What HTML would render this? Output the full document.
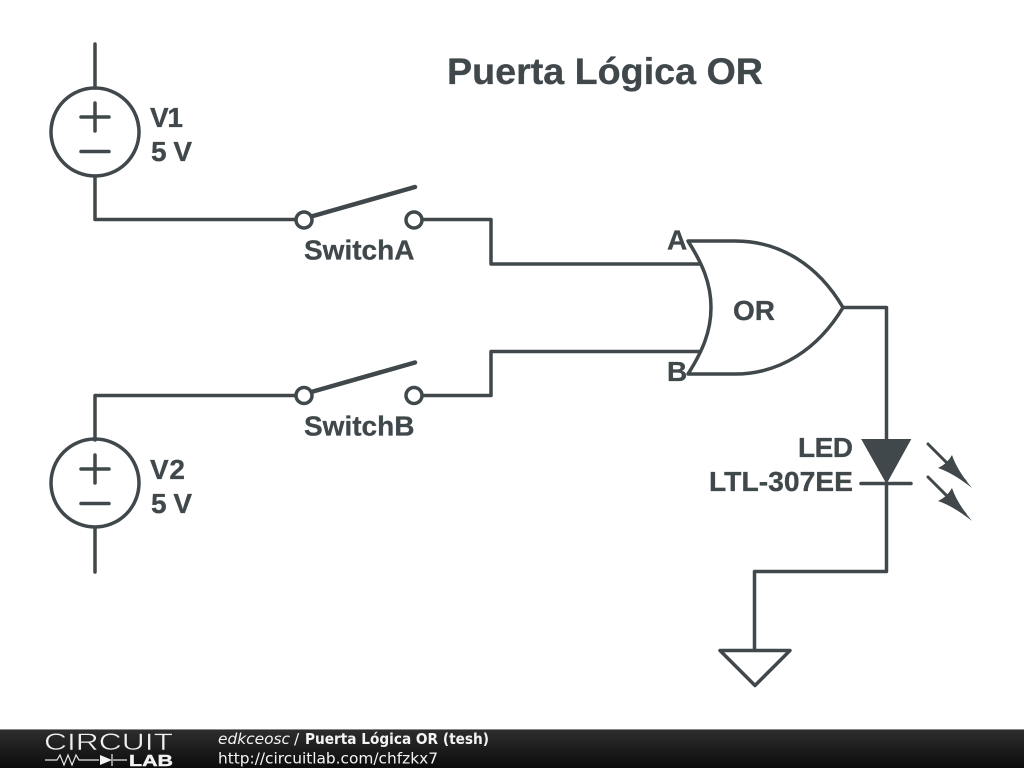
<!DOCTYPE html>
<html><head><meta charset="utf-8"><title>Puerta Lógica OR</title>
<style>html,body{margin:0;padding:0;background:#fff;width:1024px;height:768px;overflow:hidden}svg{display:block}</style>
</head><body>
<svg width="1024" height="768" viewBox="0 0 1024 768" xmlns="http://www.w3.org/2000/svg">
<defs><linearGradient id="f" x1="0" y1="0" x2="0" y2="1"><stop offset="0" stop-color="#2e2e2e"/><stop offset="1" stop-color="#0c0c0c"/></linearGradient></defs>
<rect width="1024" height="768" fill="#fff"/>
<g fill="none" stroke="#40484c" stroke-width="3.5" stroke-linecap="round" stroke-linejoin="round">
<path d="M95 44V88M95 176V219.500H296"/>
<circle cx="95" cy="132" r="44"/>
<path d="M81 117H109M95 103V131M81 151.500H109"/>
<circle cx="304" cy="220" r="8"/><circle cx="414" cy="220" r="8"/>
<path d="M313 216L415 187" stroke-width="4.500"/>
<path d="M422 219.500H491V264H700"/>
<path d="M95 572V528M95 440V395.500H296"/>
<circle cx="95" cy="483" r="44"/>
<path d="M81 469H109M95 455V483M81 503.500H109"/>
<circle cx="304" cy="395.500" r="8"/><circle cx="414" cy="395.500" r="8"/>
<path d="M313 391.500L415 362.500" stroke-width="4.500"/>
<path d="M422 395.500H491V351.500H700"/>
<path d="M688 241H735C780 241 818 265 843 307.500C818 349 780 374 735 374H688C702 352 711 332 711 307.500C711 283 702 263 688 241Z"/>
<path d="M843 307.500H886.500V440M861 483.500H911M886.500 483.500V571.500H754.500V650M720 650.500H790L755 685.500Z"/>
<path d="M928 444L965 481M928 477L965 514" stroke-width="3"/>
</g>
<path d="M862 439.500H910.500L886.500 483Z" fill="#40484c" stroke="#40484c" stroke-width="1"/>
<path d="M972 488Q953 473 938 468Q947 464 952 455Q957 470 972 488Z M972 521Q953 506 938 501Q947 497 952 488Q957 503 972 521Z" fill="#40484c"/>
<g font-family="'Liberation Sans',sans-serif" font-weight="bold" fill="#40484c" stroke="#40484c" stroke-width=".3" font-size="28">
<text x="447" y="84" font-size="37" textLength="316" lengthAdjust="spacingAndGlyphs">Puerta Lógica OR</text>
<text x="150" y="127" textLength="33">V1</text>
<text x="151" y="161" textLength="41">5 V</text>
<text x="150" y="479" textLength="35">V2</text>
<text x="151" y="513" textLength="41">5 V</text>
<text x="304" y="259.500">SwitchA</text>
<text x="304" y="435.500">SwitchB</text>
<text x="667" y="249.500">A</text>
<text x="667" y="381">B</text>
<text x="733" y="320">OR</text>
<text x="798" y="457" textLength="55">LED</text>
<text x="709" y="491" textLength="144" lengthAdjust="spacingAndGlyphs">LTL-307EE</text>
</g>
<rect y="729" width="1024" height="39" fill="url(#f)"/>
<rect y="729" width="1024" height="1" fill="#8a8a8a"/>
<text x="44" y="750" font-family="'Liberation Sans',sans-serif" font-size="24" fill="#f0f0f0" stroke="#222" stroke-width=".5" textLength="129" lengthAdjust="spacingAndGlyphs">CIRCUIT</text>
<path d="M45 760H57L60 755L64 765L68 755L72 765L76 755L79 760H99M113 760H127M112 754V766" fill="none" stroke="#e8e8e8" stroke-width="1.200"/>
<path d="M100 755L112 760L100 765Z" fill="#f2f2f2"/>
<text x="129" y="766" font-family="'Liberation Sans',sans-serif" font-weight="bold" font-size="15.500" fill="#f2f2f2" stroke="#f2f2f2" stroke-width=".4" textLength="44" lengthAdjust="spacingAndGlyphs">LAB</text>
<g font-family="'DejaVu Sans',sans-serif" font-size="15.400" fill="#f4f4f4">
<text x="218" y="744" font-style="italic" textLength="72">edkceosc</text>
<text x="294" y="744">/</text>
<text x="305" y="744" font-weight="bold" textLength="184" lengthAdjust="spacingAndGlyphs">Puerta Lógica OR (tesh)</text>
<text x="218" y="763.500" textLength="220">http://circuitlab.com/chfzkx7</text>
</g>
</svg>
</body></html>
